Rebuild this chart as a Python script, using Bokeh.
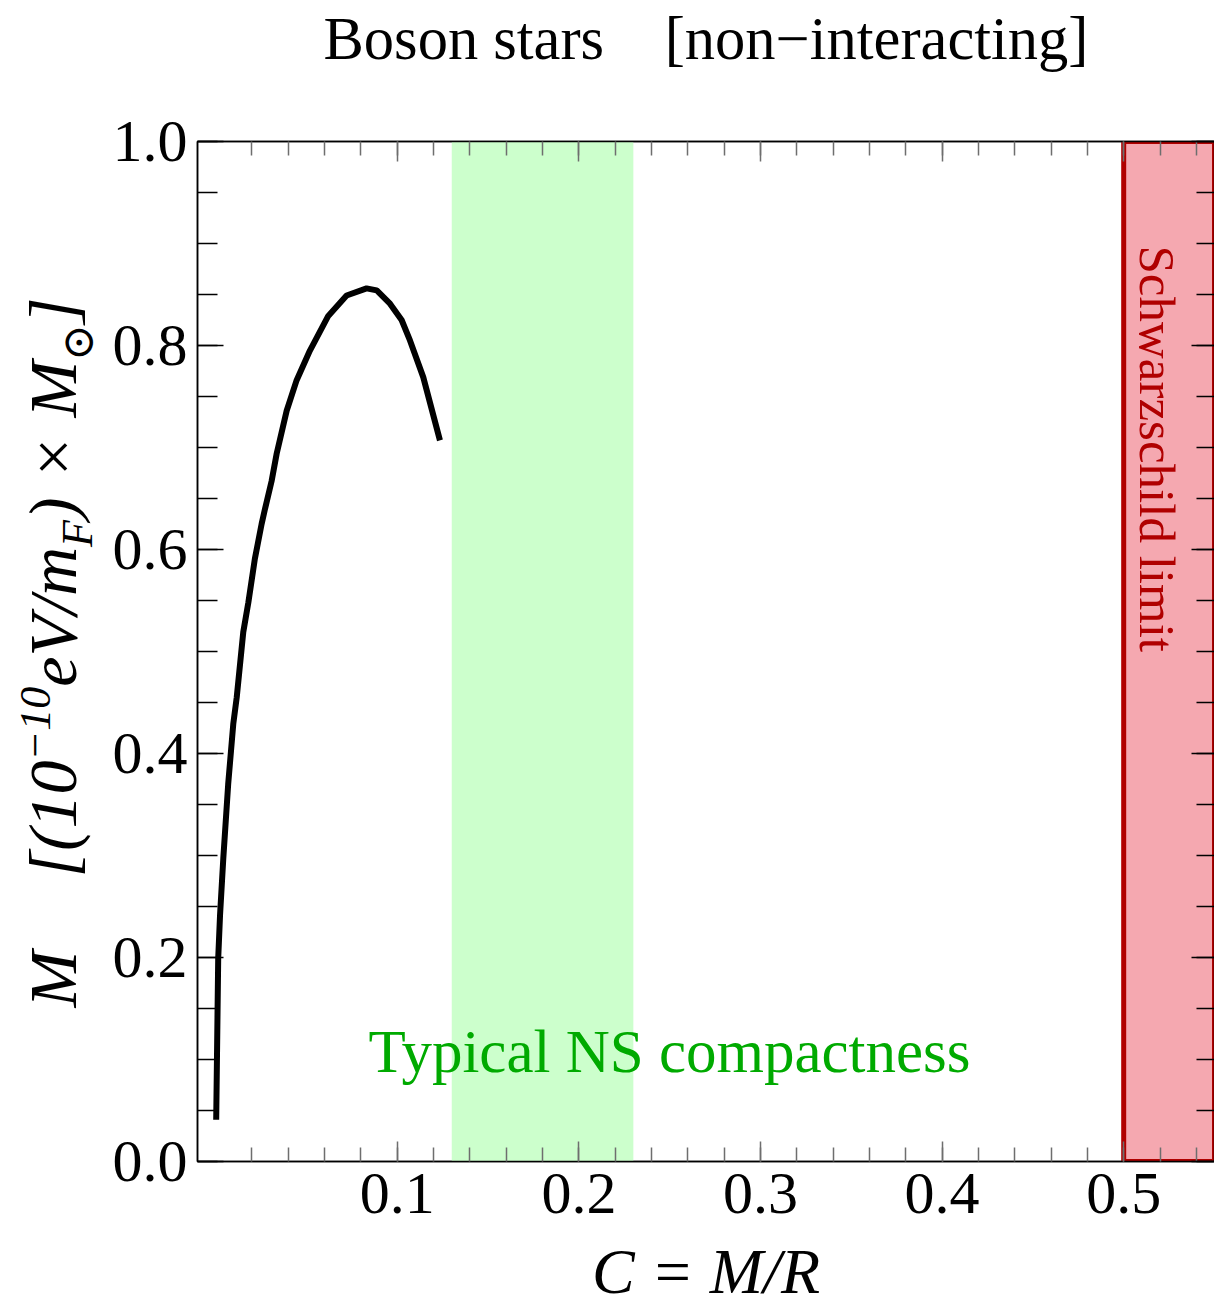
from math import pi

from bokeh.plotting import figure
from bokeh.layouts import row
from bokeh.models import Range1d, LinearAxis, FixedTicker, Label, PrintfTickFormatter
from bokeh.embed import file_html
from bokeh.resources import INLINE

# Mass-compactness curve of non-interacting boson stars
compactness = [0.0003, 0.0014, 0.0024, 0.0042, 0.0069, 0.0097, 0.0116, 0.0152,
               0.0180, 0.0216, 0.0253, 0.0272, 0.0308, 0.0336, 0.0391, 0.0446,
               0.0519, 0.0620, 0.0721, 0.0831, 0.0887, 0.0960, 0.1024, 0.1070,
               0.1143, 0.1235]
mass = [0.041, 0.199, 0.241, 0.297, 0.370, 0.429, 0.455, 0.519,
        0.548, 0.591, 0.625, 0.640, 0.667, 0.694, 0.736, 0.766,
        0.795, 0.829, 0.849, 0.856, 0.854, 0.841, 0.825, 0.805,
        0.769, 0.707]

# Shaded compactness bands
ns_band = (0.13, 0.23)
schwarzschild_band = (0.5, 0.55)

x_major = [0.1, 0.2, 0.3, 0.4, 0.5]
x_minor = [round(0.02 * i, 2) for i in range(1, 28)]
y_major = [0.0, 0.2, 0.4, 0.6, 0.8, 1.0]
y_minor = [round(0.05 * i, 2) for i in range(0, 21)]

X0, X1 = -0.01, 0.55
Y0, Y1 = 0.0, 1.0
W, H = 1214, 1309
SIDE = 105                      # strip holding the vertical axis title
L, R, T, B = 197, 1214, 141, 1161

SERIF = "Liberation Serif"
MID = 0.3375                    # baseline-to-middle distance, in em


def px_x(px):
    return X0 + (px - L) / (R - L) * (X1 - X0)


def px_y(py):
    return Y0 + (B - py) / (B - T) * (Y1 - Y0)


p = figure(width=W - SIDE, height=H, x_range=Range1d(X0, X1), y_range=Range1d(Y0, Y1),
           output_backend="svg", toolbar_location=None, title=None,
           min_border_left=L - SIDE, min_border_right=0,
           min_border_top=T, min_border_bottom=H - B)
p.xgrid.visible = False
p.ygrid.visible = False
p.outline_line_color = "black"
p.outline_line_width = 1.5
p.background_fill_color = "white"
p.border_fill_color = "white"

# bands
p.quad(left=[ns_band[0]], right=[ns_band[1]], bottom=[Y0], top=[Y1],
       fill_color="#CCFFCC", line_color=None)
p.quad(left=[schwarzschild_band[0]], right=[schwarzschild_band[1]], bottom=[Y0], top=[Y1],
       fill_color="#F5A8B0", line_color="#B00000", line_width=5)

# curve
p.line(compactness, mass, line_color="black", line_width=6)


def style_axis(ax, ticks, minors, tick_in, minor_in, color, labels=True):
    ax.ticker = FixedTicker(ticks=ticks, minor_ticks=minors)
    ax.formatter = PrintfTickFormatter(format="%.1f")
    ax.major_tick_in = tick_in
    ax.major_tick_out = 0
    ax.minor_tick_in = minor_in
    ax.minor_tick_out = 0
    ax.major_tick_line_color = color
    ax.minor_tick_line_color = color
    ax.major_tick_line_width = 1.5
    ax.minor_tick_line_width = 1.5
    ax.axis_line_color = "black"
    ax.axis_line_width = 1.5
    if labels:
        ax.major_label_text_font = SERIF
        ax.major_label_text_font_size = "60px"
        ax.major_label_text_color = "black"
    else:
        ax.major_label_text_font_size = "0px"
        ax.major_label_text_color = None
        ax.major_label_standoff = 0


def style_axis_title(ax, text, size, style, standoff):
    ax.axis_label = text
    ax.axis_label_text_font = SERIF
    ax.axis_label_text_font_style = style
    ax.axis_label_text_font_size = f"{size}px"
    ax.axis_label_text_color = "black"
    ax.axis_label_standoff = standoff


xb = p.xaxis[0]
style_axis(xb, x_major, x_minor, 20, 14, "#6E6E6E")
xb.major_label_standoff = 12
style_axis_title(xb, "C = M/R", 64, "italic", 20)

yl = p.yaxis[0]
style_axis(yl, y_major, y_minor, 26, 20, "black")
yl.major_label_standoff = 10

# top axis mirrors the ticks and carries the plot title
top_ax = LinearAxis()
style_axis(top_ax, x_major, x_minor, 20, 14, "#6E6E6E", labels=False)
style_axis_title(top_ax, "Boson stars\u00a0\u00a0\u00a0\u00a0[non\u2212interacting]",
                 60.5, "normal", 70)
p.add_layout(top_ax, "above")
right_ax = LinearAxis()
style_axis(right_ax, y_major, y_minor, 23, 18, "black", labels=False)
p.add_layout(right_ax, "right")


def caption(fig, text, x, y, size, color="black", style="normal", align="left",
            angle=0.0, font=SERIF):
    fig.add_layout(Label(x=x, y=y, text=text, text_font=font,
                         text_font_size=f"{size}px", text_font_style=style,
                         text_color=color, text_align=align,
                         text_baseline="middle", angle=angle))


# band captions (y of the horizontal one is its baseline)
caption(p, "Typical NS compactness", px_x(669), px_y(1072 - MID * 61), 61,
        color="#00AA00", align="center")
caption(p, "Schwarzschild limit", px_x(1156), px_y(245), 51, color="#B00000",
        angle=-pi / 2)

# vertical axis title, drawn piece by piece in its own strip (reads bottom to top);
# the strip's frame lines up with the main frame, so its y range spans the frame
side = figure(width=SIDE, height=H, x_range=Range1d(0, SIDE), y_range=Range1d(B, T),
              output_backend="svg", toolbar_location=None, title=None,
              x_axis_location=None, y_axis_location=None,
              min_border=0, outline_line_color=None)
side.xgrid.visible = False
side.ygrid.visible = False
side.background_fill_color = "white"
side.border_fill_color = "white"

# advance widths (em) of the serif italic glyphs used in the title
ADV = {"M": 0.833, "[": 0.389, "(": 0.333, "1": 0.5, "0": 0.5, "\u2212": 0.675,
       "e": 0.444, "V": 0.611, "/": 0.278, "m": 0.722, "F": 0.611, ")": 0.333,
       " ": 0.25, "\u00d7": 0.675, "]": 0.389, "\u2299": 0.838}
MAIN, SCRIPT = 68, 44
BASE, SUP, SUB = 75, 50, 92      # baseline columns of the rotated text
up = pi / 2

caption(side, "M", BASE - MID * MAIN, 1007, MAIN, style="italic", angle=up)

y_title_parts = [
    ("[(10", MAIN, BASE, SERIF),
    ("\u221210", SCRIPT, SUP, SERIF),
    ("eV/m", MAIN, BASE, SERIF),
    ("F", SCRIPT, SUB, SERIF),
    (") \u00d7 M", MAIN, BASE, SERIF),
    ("\u2299", SCRIPT, SUB, "DejaVu Serif"),
    ("]", MAIN, BASE, SERIF),
]
pos = 877
for text, size, bx, font in y_title_parts:
    style = "normal" if font != SERIF else "italic"
    caption(side, text, bx - MID * size, pos, size, style=style, angle=up, font=font)
    pos -= sum(ADV[ch] for ch in text) * size

layout = row(side, p, spacing=0)
open("out.html", "w").write(file_html(layout, INLINE))
